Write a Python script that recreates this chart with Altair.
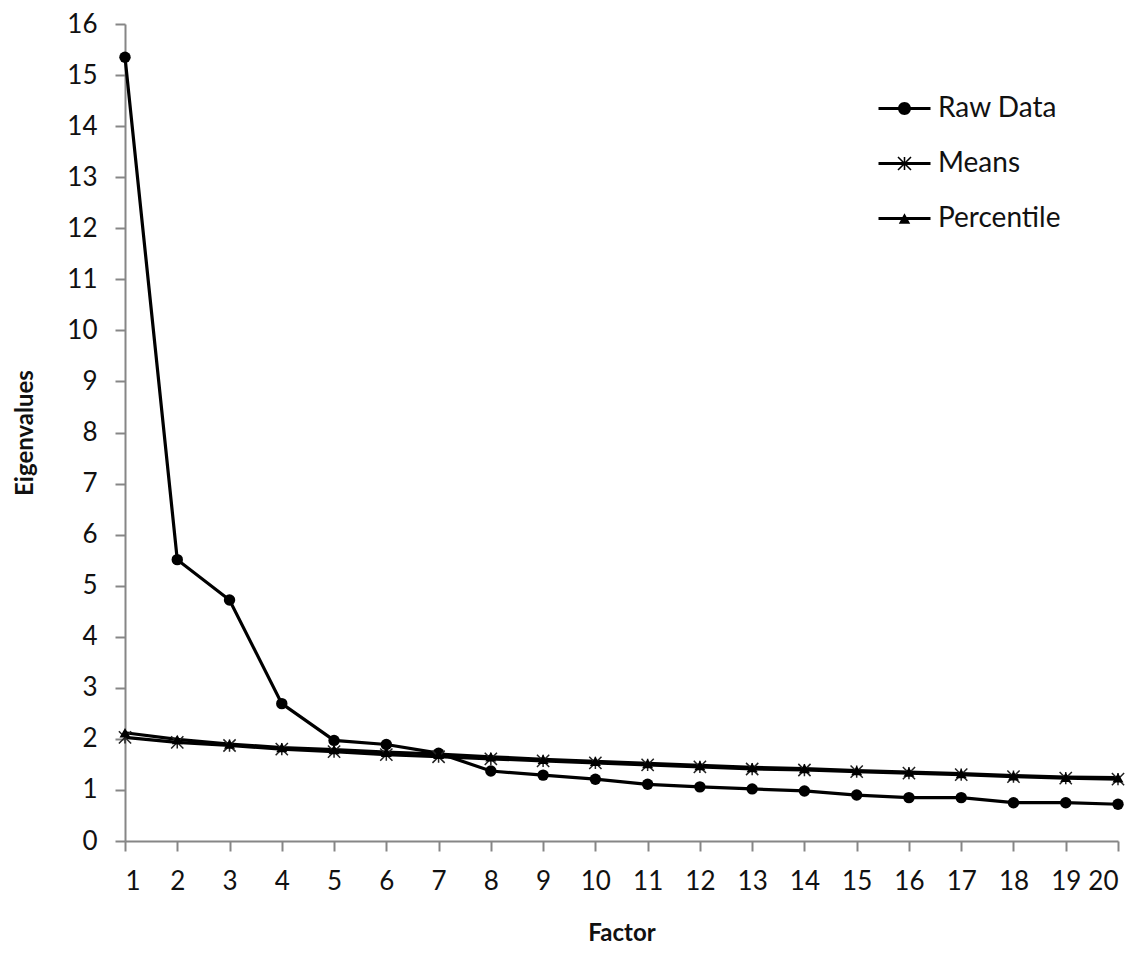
import altair as alt
import pandas as pd

factors = list(range(1, 21))
raw_data = [15.35, 5.51, 4.72, 2.69, 1.97, 1.89, 1.72, 1.37, 1.29, 1.21,
            1.11, 1.06, 1.02, 0.98, 0.90, 0.85, 0.85, 0.75, 0.75, 0.72]
means = [2.03, 1.93, 1.87, 1.80, 1.75, 1.69, 1.65, 1.61, 1.57, 1.53,
         1.49, 1.45, 1.41, 1.39, 1.36, 1.33, 1.30, 1.26, 1.23, 1.21]
percentile = [2.12, 1.99, 1.90, 1.83, 1.79, 1.74, 1.70, 1.65, 1.60, 1.56,
              1.52, 1.48, 1.44, 1.42, 1.38, 1.35, 1.32, 1.28, 1.25, 1.24]
series_names = ["Raw Data", "Means", "Percentile"]
x_ticks = list(range(1, 21))
y_ticks = list(range(0, 17))

rows = []
for name, vals in zip(series_names, [raw_data, means, percentile]):
    for f, v in zip(factors, vals):
        rows.append({"factor": f, "series": name, "value": v})
df = pd.DataFrame(rows)

FONT = "Lato"
x_enc = alt.X("factor:Q", scale=alt.Scale(domain=[1, 20], nice=False, zero=False),
              axis=alt.Axis(values=x_ticks, title="Factor", labelPadding=17,
                            titleY=92, titleBaseline="middle"))
y_enc = alt.Y("value:Q", scale=alt.Scale(domain=[0, 16], nice=False),
              axis=alt.Axis(values=y_ticks, title="Eigenvalues", labelPadding=18,
                            titleX=-100, titleBaseline="middle", titleAngle=-90))

base = alt.Chart(df).encode(x=x_enc, y=y_enc)

lines = base.mark_line(color="black", strokeWidth=3.2).encode(detail="series:N")

ast_path = "M-1,-1L1,1M-1,1L1,-1M0,-1L0,1"
raw_pts = base.transform_filter(alt.datum.series == "Raw Data").mark_point(
    shape="circle", filled=True, color="black", size=130, opacity=1)
mean_pts = base.transform_filter(alt.datum.series == "Means").mark_point(
    shape=ast_path, filled=False, color="#222222", size=150, strokeWidth=1.5, opacity=1)
pct_pts = base.transform_filter(alt.datum.series == "Percentile").mark_point(
    shape="triangle-up", filled=True, color="black", size=120, opacity=1)

bar = "M-1,-0.058L1,-0.058L1,0.058L-1,0.058Z"
asterisk_fill = ("M-0.229,-0.271L0.271,0.229L0.229,0.271L-0.271,-0.229Z"
                 "M-0.271,0.229L0.229,-0.271L0.271,-0.229L-0.229,0.271Z"
                 "M-0.03,-0.25L0.03,-0.25L0.03,0.25L-0.03,0.25Z")
leg_paths = [
    bar + "M0.25,0A0.25,0.25,0,1,1,-0.25,0A0.25,0.25,0,1,1,0.25,0Z",
    bar + asterisk_fill,
    bar + "M-0.22,0.2L0,-0.2L0.22,0.2Z",
]
legend_layer = base.mark_point(filled=True, color="black", opacity=0).encode(
    shape=alt.Shape("series:N", scale=alt.Scale(domain=series_names, range=leg_paths),
                    legend=alt.Legend(orient="none", legendX=753, legendY=58, title=None,
                                      symbolSize=2704, symbolOpacity=1,
                                      symbolFillColor="black", symbolStrokeColor="black",
                                      symbolStrokeWidth=0.5, rowPadding=14, labelOffset=7,
                                      labelFont=FONT, labelFontSize=28, labelColor="#111111",
                                      labelLimit=300))
)

chart = alt.layer(lines, raw_pts, mean_pts, pct_pts, legend_layer).properties(
    width=993, height=817,
    autosize=alt.AutoSizeParams(type="none"),
    padding={"left": 117, "top": 16, "right": 14, "bottom": 106},
).configure_view(stroke=None).configure_axis(
    grid=False, domainColor="#868686", domainWidth=2, tickColor="#868686",
    tickWidth=2, tickSize=10, labelFont=FONT, labelFontSize=26, labelColor="#111111",
    titleFont=FONT, titleFontSize=24, titleFontWeight="bold", titleColor="#111111",
)

chart.save("out.html", embed_options={"renderer": "svg", "actions": False})
